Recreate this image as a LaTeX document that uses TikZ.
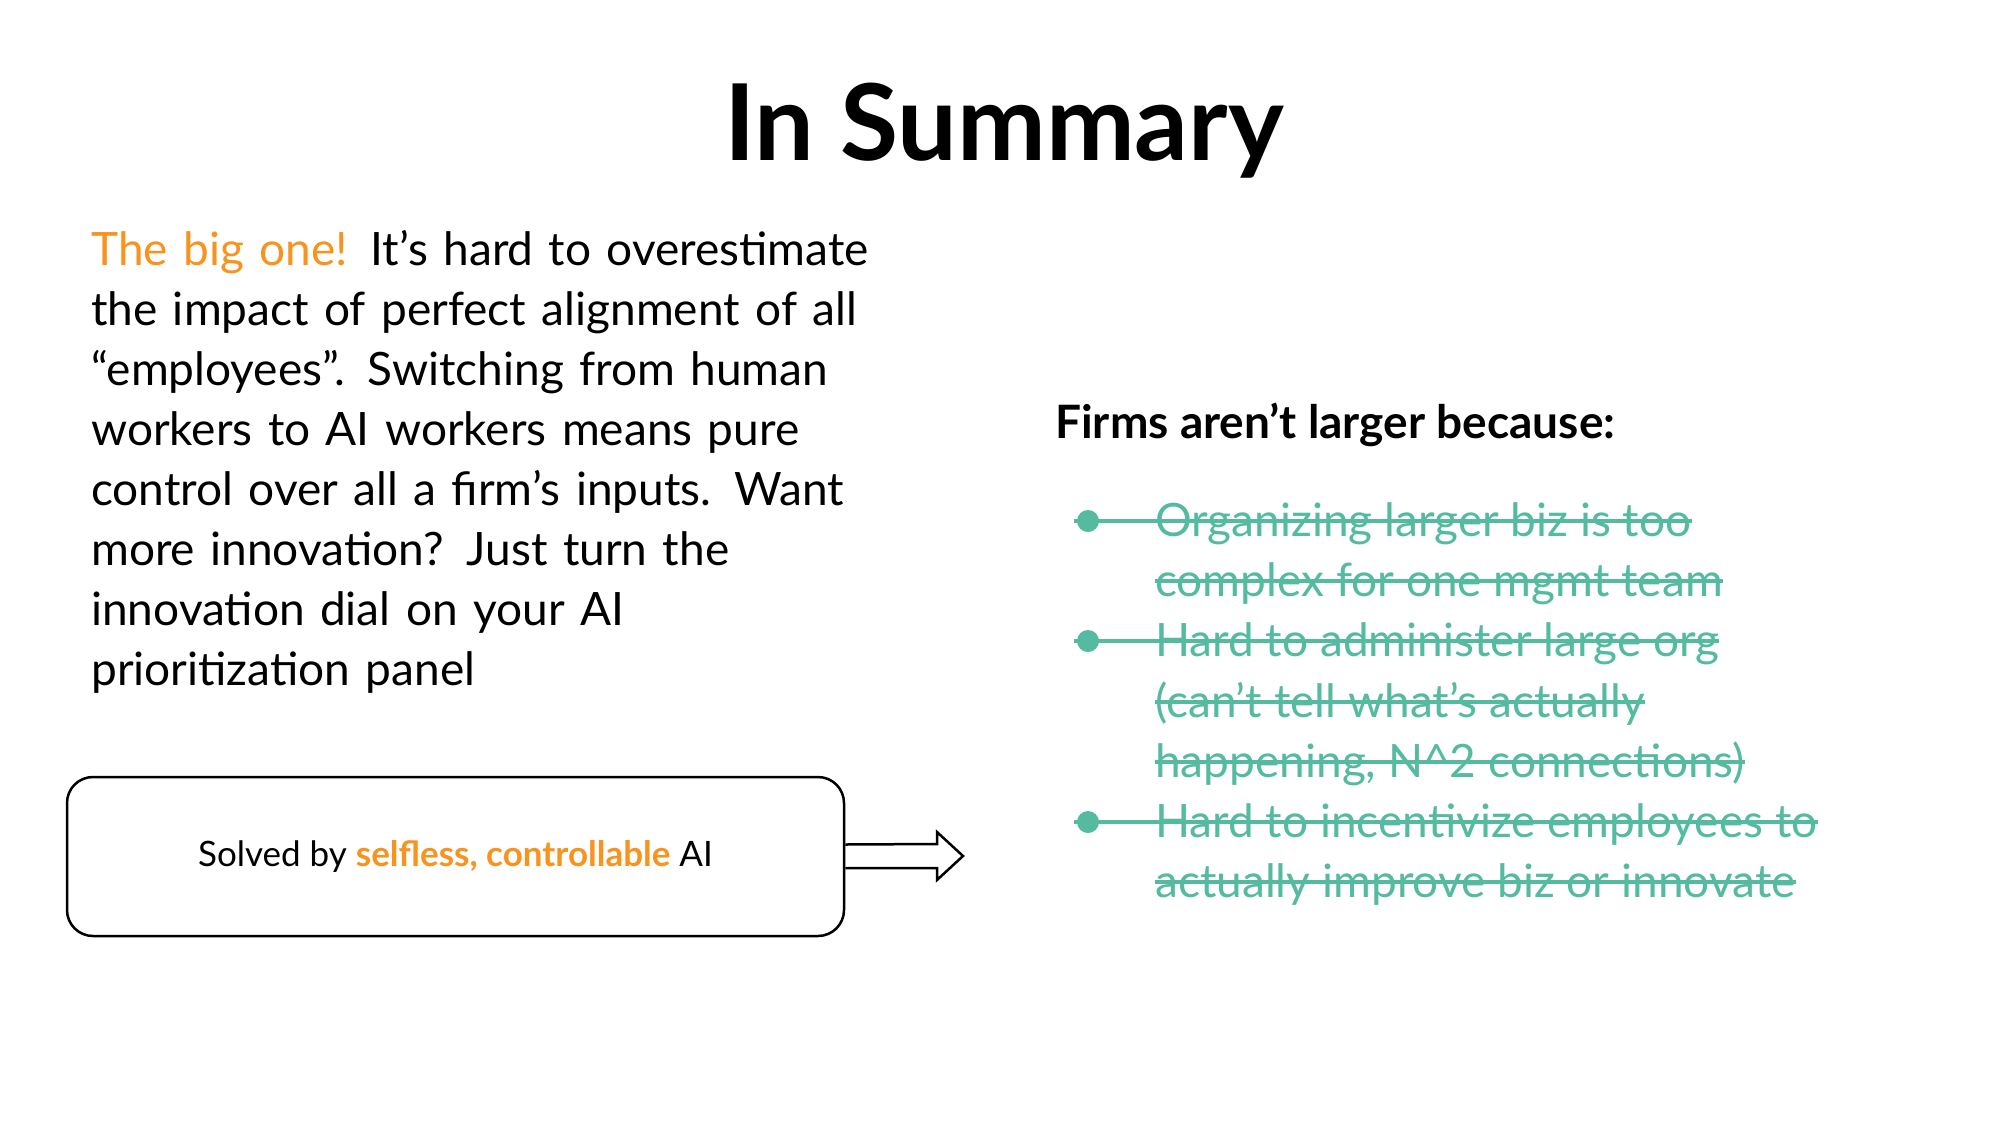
\documentclass[tikz,border=0pt]{standalone}
\usepackage{fontspec}
\setmainfont{Lato}
\definecolor{orng}{HTML}{F7931E}
\definecolor{teal}{HTML}{55BBA0}
\begin{document}
\begin{tikzpicture}[x=1pt,y=-1pt,
  para/.style={anchor=base west,inner sep=0pt,font=\fontsize{46}{60}\selectfont},
  strk/.style={anchor=base west,inner sep=0pt,text=teal,font=\fontsize{46}{60}\selectfont},
  sline/.style={teal,line width=3.5pt}]
\useasboundingbox (0,0) rectangle (2000,1125);
\node[anchor=base,inner sep=0pt,font=\fontsize{106}{110}\selectfont\bfseries] (title) at (1004,160) {In Summary};
\node[para,align=left,text width=900] (p) at (91,265) {\textcolor{orng}{The big one!} It’s hard to overestimate\\
the impact of perfect alignment of all\\
“employees”. Switching from human\\
workers to AI workers means pure\\
control over all a firm’s inputs. Want\\
more innovation? Just turn the\\
innovation dial on your AI\\
prioritization panel};
\node[para,font=\fontsize{46}{60}\selectfont\bfseries] (h) at (1055,438) {Firms aren’t larger because:};
\foreach \n/\y/\t/\b in {
 a/536/{Organizing larger biz is too}/1,
 b/596/{complex for one mgmt team}/0,
 c/656/{Hard to administer large org}/1,
 d/717/{(can’t tell what’s actually}/0,
 e/777/{happening, N\^{}2 connections)}/0,
 f/837/{Hard to incentivize employees to}/1,
 g/897/{actually improve biz or innovate}/0}{
  \node[strk] (\n) at (1155,\y) {\t};
  \coordinate (\n s) at (1074,\y-15);
  \coordinate (\n t) at (1155,\y-15);
  \ifnum\b=1
    \fill[teal] (1088,\y-15) circle (11);
    \draw[sline] (\n s) -- (\n t -| \n.east);
  \else
    \draw[sline] (\n t) -- (\n t -| \n.east);
  \fi
}
\node[draw,line width=2.5pt,rounded corners=26,minimum width=777,minimum height=159,font=\fontsize{35}{40}\selectfont] (box) at (455.5,856.5) {Solved by \textcolor{orng}{\bfseries selfless, controllable} AI};
\coordinate (tip) at (963,856);
\draw[line width=2.5pt,line join=miter] (box.east) ++(0,-12) -- (937,844) -- (937,832) -- (tip) -- (937,880) -- (937,868) -- (box.east |- 0,868);
\end{tikzpicture}
\end{document}
